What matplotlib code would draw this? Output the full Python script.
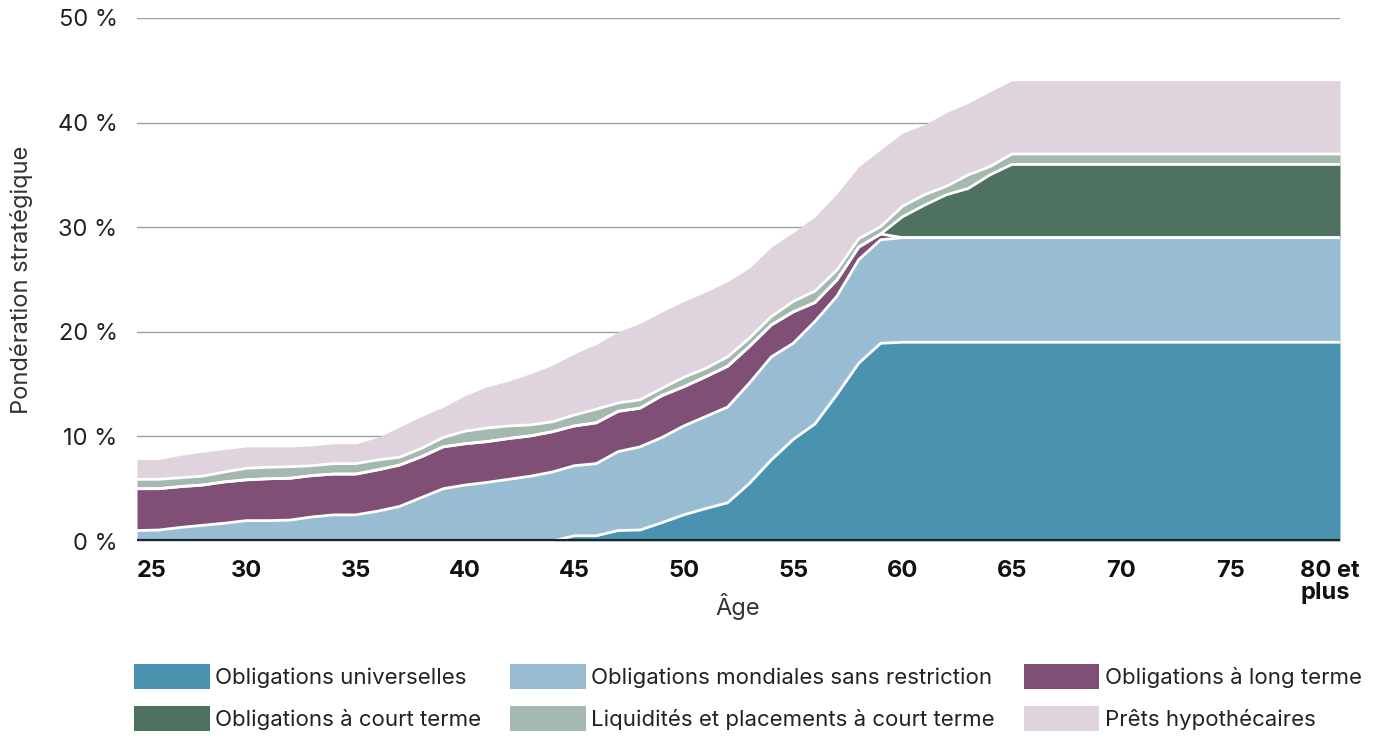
import matplotlib
matplotlib.use("Agg")
import matplotlib.pyplot as plt
from matplotlib.patches import Patch
from matplotlib.transforms import ScaledTranslation
import numpy as np

plt.rcParams['font.family'] = ['Inter', 'DejaVu Sans']

ages = list(range(25, 81))

universelles = [0, 0, 0, 0, 0, 0, 0, 0, 0, 0, 0, 0, 0, 0, 0, 0, 0, 0, 0, 0,
                0.5, 0.5, 1.0, 1.05, 1.75, 2.5, 3.1, 3.65, 5.5, 7.75, 9.7, 11.2, 14.0, 17.0, 18.9,
                19, 19, 19, 19, 19, 19] + [19] * 15
mondiales = [1.0, 1.05, 1.3, 1.5, 1.7, 1.95, 1.95, 2.0, 2.3, 2.5, 2.5, 2.85, 3.3, 4.15, 5.0,
             5.35, 5.6, 5.9, 6.2, 6.6, 6.7, 6.9, 7.55, 7.95, 8.15, 8.5, 8.8, 9.15, 9.6, 9.85,
             9.2, 9.8, 9.4, 9.9, 9.9, 10, 10, 10, 10, 10, 10] + [10] * 15
long_terme = [4.0, 3.95, 3.9, 3.85, 3.95, 3.9, 4.0, 4.0, 3.95, 3.9, 3.9, 3.95, 3.95, 3.9, 4.0,
              3.95, 3.9, 3.9, 3.85, 3.85, 3.8, 3.9, 3.85, 3.7, 4.0, 3.75, 3.8, 3.9, 3.5, 3.05,
              3.0, 1.8, 1.55, 1.2, 0.55, 0, 0, 0, 0, 0, 0] + [0] * 15
court_terme = [0] * 35 + [2.0, 3.1, 4.1, 4.7, 6.0, 7.0] + [7.0] * 15
liquidites = [0.9, 0.9, 0.85, 0.85, 0.95, 1.1, 1.1, 1.1, 0.95, 1.0, 1.0, 0.95, 0.75, 0.8, 0.9,
              1.2, 1.3, 1.2, 1.05, 0.95, 1.05, 1.3, 0.8, 0.8, 0.7, 0.9, 0.8, 0.9, 0.8, 0.8,
              1.0, 1.1, 0.95, 0.8, 0.7, 1.0, 1.0, 0.8, 1.3, 0.8, 1.0] + [1.0] * 15
prets = [1.9, 1.9, 2.15, 2.3, 2.15, 2.05, 1.95, 1.9, 1.9, 1.9, 1.9, 2.15, 2.9, 3.05, 2.9,
         3.4, 3.95, 4.3, 4.9, 5.4, 5.85, 6.2, 6.8, 7.3, 7.3, 7.25, 7.3, 7.2, 6.7, 6.65,
         6.6, 7.1, 7.3, 6.9, 7.35, 7.0, 6.7, 7.05, 6.85, 7.15, 7.0] + [7.0] * 15

series_names = ["Obligations universelles", "Obligations mondiales sans restriction",
                "Obligations à long terme", "Obligations à court terme",
                "Liquidités et placements à court terme", "Prêts hypothécaires"]
series_colors = ["#4A93B0", "#98BDD3", "#7F4F76", "#4F7260", "#A3B8AE", "#DFD3DD"]
series = [universelles, mondiales, long_terme, court_terme, liquidites, prets]

xticks = [25, 30, 35, 40, 45, 50, 55, 60, 65, 70, 75, 80]
xticklabels = ["25", "30", "35", "40", "45", "50", "55", "60", "65", "70", "75", "80 et\nplus"]
yticks = [0, 10, 20, 30, 40, 50]
yticklabels = ["0 %", "10 %", "20 %", "30 %", "40 %", "50 %"]

fig = plt.figure(figsize=(13.8, 7.38), dpi=100)
ax = fig.add_axes([137 / 1380, 1 - 541 / 738, (1340 - 137) / 1380, (541 - 18) / 738])

x = np.array(ages)
bottom = np.zeros(len(ages))
tops = []
for vals, col in zip(series, series_colors):
    v = np.array(vals, dtype=float)
    top = bottom + v
    ax.fill_between(x, bottom, top, color=col, linewidth=0, zorder=2)
    tops.append(top.copy())
    bottom = top
for t in tops[:-1]:
    ax.plot(x, t, color="white", linewidth=2, zorder=3, solid_joinstyle="miter")

ax.set_xlim(25, 80)
ax.set_ylim(0, 50)
for yv in yticks[1:]:
    ax.axhline(yv, color="#a0a0a0", linewidth=1, zorder=1)
ax.axhline(0, color="#222222", linewidth=3, zorder=5)

for s in ax.spines.values():
    s.set_visible(False)

ax.set_yticks(yticks)
ax.set_yticklabels(yticklabels, fontsize=17, color="#222222")
ax.set_xticks(xticks)
ax.set_xticklabels(xticklabels, fontsize=17, fontweight="bold", color="#111111",
                   linespacing=1.0, va="top")
ax.tick_params(axis="both", length=0)
ax.tick_params(axis="x", pad=14)
ax.tick_params(axis="y", pad=14)
xt = ax.get_xticklabels()
xt[0].set_ha("left")
xt[-1].set_ha("right")
xt[-1].set_multialignment("left")
xt[-1].set_transform(xt[-1].get_transform() + ScaledTranslation(0.2, 0, fig.dpi_scale_trans))

fig.text(738 / 1380, 1 - 607 / 738, "Âge", fontsize=17, color="#333333",
         ha="center", va="center")
ax.set_ylabel("Pondération stratégique", fontsize=17, color="#333333", labelpad=18)

order = [0, 3, 1, 4, 2, 5]
handles = [Patch(facecolor=series_colors[i], edgecolor="none") for i in order]
labels = [series_names[i] for i in order]
fig.legend(handles, labels, loc="upper left", bbox_to_anchor=(134 / 1380, 1 - 664 / 738),
           ncol=3, frameon=False, fontsize=16, handlelength=3.4, handleheight=1.35,
           handletextpad=0.25, columnspacing=1.3, labelspacing=0.75, borderpad=0,
           borderaxespad=0, labelcolor="#222222")

fig.savefig("out.png", dpi=100)
